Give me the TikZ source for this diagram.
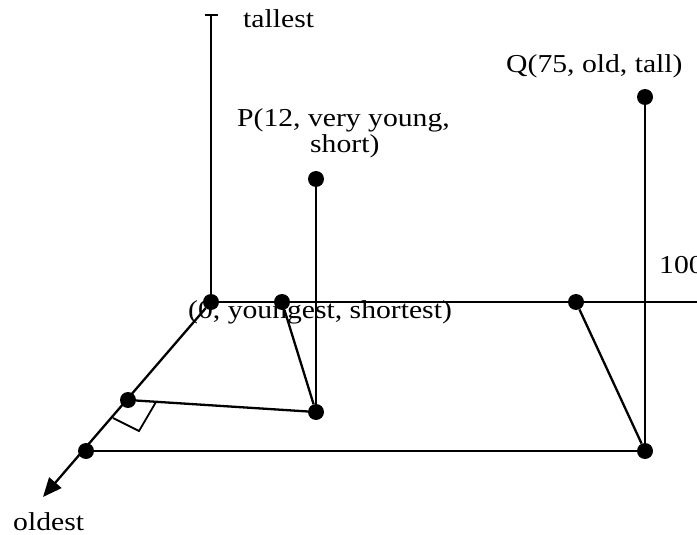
\documentclass[tikz,border=0pt]{standalone}
\usepackage{fontspec}
\setmainfont{Liberation Serif}[FakeStretch=1.15]
\usepackage{tikz}
\usetikzlibrary{positioning,arrows.meta,calc}
\tikzset{
  >={Triangle[length=19pt,width=16pt]},
  every node/.style={font=\fontsize{25.8}{29}\selectfont},
  % --- nodes
  dot/.style  = {circle, fill=black, inner sep=0pt, minimum size=16pt},
  lbl/.style  = {anchor=base west, inner sep=0pt},
  % --- edges
  ax/.style   = {line width=2.3pt, draw=black},
  e/.style    = {line width=2.3pt, draw=black},
}
\begin{document}
\begin{tikzpicture}[x=1pt,y=-1pt]
  \useasboundingbox (0,0) rectangle (697,535);
  \clip (0,0) rectangle (697,535);

  % axes ends
  \coordinate (tall) at (211,14);
  \coordinate (far)  at (718,302);
  \coordinate (old)  at (43,497);

  % points on the axes
  \node[dot] (o) at (211,302) {};
  \node[dot] (a) at (282,302) {};
  \node[dot] (b) at (576,302) {};
  \node[dot] (c) at (128,400) {};
  \node[dot] (d) at (86,451) {};

  % P and Q
  \node[dot] (ptop)  at (316,179) {};
  \node[dot] (pbase) at (316,412) {};
  \node[dot] (qtop)  at (645,97) {};
  \node[dot] (qbase) at (645,451) {};

  % axes
  \draw[ax, -{Bar[width=13pt]}] (o) -- (tall);
  \draw[ax, ->] (o) -- (far);
  \draw[ax, ->] (o) -- (old);

  % projections
  \draw[e] (ptop) -- (pbase);
  \draw[e] (a) -- (pbase);
  \draw[e] (c) -- (pbase);
  \draw[e] (qtop) -- (qbase);
  \draw[e] (b) -- (qbase);
  \draw[e] (d) -- (qbase);

  % right angle mark
  \draw[line width=1.8pt] (156,402) -- (139,431) -- (113,418);

  % labels
  \node[lbl] (ltall) at (243,28)  {tallest};
  \node[lbl] (lq)    at (506,73)  {Q(75, old, tall)};
  \node[lbl] (lp1)   at (237,127) {P(12, very young,};
  \node[lbl] (lp2)   at (310,153) {short)};
  \node[lbl] (lhund) at (659,273) {100};
  \node[lbl] (lo)    at (188,318) {(0, youngest, shortest)};
  \node[lbl] (lold)  at (13,530)  {oldest};
\end{tikzpicture}
\end{document}
